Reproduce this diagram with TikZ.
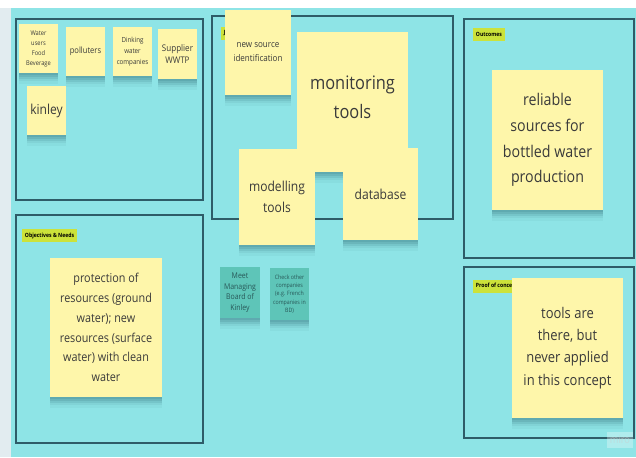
\documentclass[tikz,border=0pt]{standalone}
\usepackage{fontspec}
\setmainfont{Open Sans}[FakeStretch=0.88]
\usetikzlibrary{shadows}

\definecolor{boardcyan}{RGB}{142,228,230}
\definecolor{edgegrey}{RGB}{226,236,240}
\definecolor{frameline}{RGB}{46,92,104}
\definecolor{noteyellow}{RGB}{254,246,170}
\definecolor{notegreen}{RGB}{94,197,184}
\definecolor{taglime}{RGB}{204,226,58}
\definecolor{inkgrey}{RGB}{58,58,58}
\definecolor{inkteal}{RGB}{40,88,88}
\definecolor{shadowteal}{RGB}{40,100,110}

\newcommand{\notefont}[2]{\fontsize{#1}{#2}\selectfont}

\begin{document}
\begin{tikzpicture}[x=0.02cm, y=-0.02cm,
    frame/.style={draw=frameline, line width=0.7pt},
    note/.style={fill=noteyellow, text=inkgrey, align=center, inner sep=1pt,
        drop shadow={shadow xshift=0pt, shadow yshift=-1.2pt, opacity=0.14, fill=shadowteal},
        drop shadow={shadow xshift=0pt, shadow yshift=-2.4pt, opacity=0.14, fill=shadowteal},
        drop shadow={shadow xshift=0pt, shadow yshift=-3.6pt, opacity=0.12, fill=shadowteal},
        drop shadow={shadow xshift=0pt, shadow yshift=-4.8pt, opacity=0.08, fill=shadowteal},
        drop shadow={shadow xshift=0pt, shadow yshift=-6pt, opacity=0.05, fill=shadowteal}},
    greennote/.style={note, fill=notegreen, text=inkteal},
    tag/.style={fill=taglime, text=black, anchor=west, inner xsep=1.5pt, inner ysep=0pt,
        minimum height=0.26cm, font=\bfseries\notefont{3.3}{4}}]

    \useasboundingbox (0,0) rectangle (636,457);

    % Board background
    \fill[white] (0,0) rectangle (636,457);
    \fill[edgegrey] (0,8) rectangle (11,457);
    \fill[boardcyan] (11,8) rectangle (636,457);

    % Frames
    \draw[frame] (16,19) rectangle (203,200);
    \draw[frame] (212,16) rectangle (453,219);
    \draw[frame] (464,19) rectangle (634,258);
    \draw[frame] (16,215) rectangle (203,443);
    \draw[frame] (464,267) rectangle (634,438);

    % Frame labels
    \node[tag] (jobtag) at (221,33) {J};
    \node[tag] (outtag) at (473,34) {Outcomes};
    \node[tag] (objtag) at (22,235.5) {Objectives \& Needs};
    \node[tag] (prooftag) at (473,286) {Proof of concept};

    % Stakeholders
    \node[note, minimum width=0.78cm, minimum height=0.98cm, font=\notefont{3.7}{5.7}] (water) at (38.5,48.5) {Water\\users\\Food\\Beverage};
    \node[note, minimum width=0.78cm, minimum height=0.98cm, font=\notefont{4.9}{6}] (polluters) at (85.5,51.5) {polluters};
    \node[note, minimum width=0.78cm, minimum height=0.98cm, font=\notefont{4.0}{6.2}] (dinking) at (132.5,51.5) {Dinking\\water\\companies};
    \node[note, minimum width=0.78cm, minimum height=1.0cm, font=\notefont{5.2}{7}] (supplier) at (177.5,54) {Supplier\\WWTP};
    \node[note, minimum width=0.78cm, minimum height=0.98cm, font=\notefont{7.8}{9}] (kinley) at (46.5,110.5) {kinley};

    % Tools
    \node[note, minimum width=1.32cm, minimum height=1.7cm, font=\notefont{5.2}{8}] (newsource) at (258,52.5) {new source\\identification};
    \node[note, minimum width=2.22cm, minimum height=2.8cm] (monitoring) at (352.5,102) {};
    \node[text=inkgrey, align=center, font=\notefont{10.6}{16.4}] (monitoringtext) at (352.5,97.5) {monitoring\\tools};
    \node[note, minimum width=1.52cm, minimum height=1.92cm, font=\notefont{7.8}{12}] (modelling) at (277,197) {modelling\\tools};
    \node[note, minimum width=1.5cm, minimum height=1.84cm, font=\notefont{7.8}{12}] (database) at (380.5,194) {database};

    % Outcomes
    \node[note, minimum width=2.22cm, minimum height=2.8cm, font=\notefont{9.2}{14.7}] (reliable) at (547.5,140) {reliable\\sources for\\bottled water\\production};

    % Objectives
    \node[note, minimum width=2.24cm, minimum height=2.78cm, font=\notefont{7.0}{11.3}] (protection) at (106,327.5) {protection of\\resources (ground\\water); new\\resources (surface\\water) with clean\\water};

    % Next steps
    \node[greennote, minimum width=0.8cm, minimum height=1.02cm, font=\notefont{4.5}{6.1}] (meet) at (240,292.5) {Meet\\Managing\\Board of\\Kinley};
    \node[greennote, minimum width=0.78cm, minimum height=1.04cm, font=\notefont{3.4}{4.7}] (check) at (289.5,294) {Check other\\companies\\(e.g. French\\companies in\\BD)};

    % Proof of concept
    \node[note, minimum width=2.22cm, minimum height=2.8cm, font=\notefont{8.4}{12.7}] (applied) at (567.5,348) {tools are\\there, but\\never applied\\in this concept};

    % Watermark
    \node[fill=white, fill opacity=0.3, text opacity=0.5, text=gray!40, minimum width=0.52cm, minimum height=0.32cm,
        inner sep=0pt, font=\notefont{6}{7}] (miro) at (620,440) {miro};

\end{tikzpicture}
\end{document}
